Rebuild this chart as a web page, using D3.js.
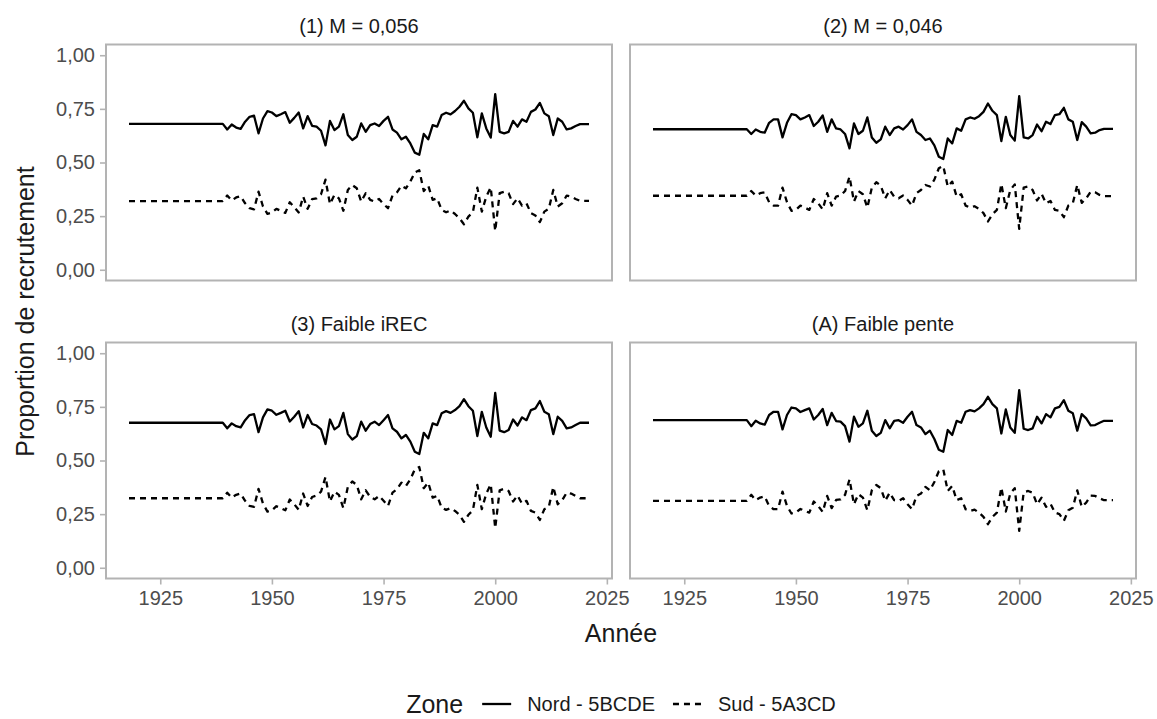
<!DOCTYPE html>
<html><head><meta charset="utf-8">
<script src="https://cdn.jsdelivr.net/npm/d3@7"></script>
<style>body{margin:0;background:#fff} svg{display:block} text{font-family:"Liberation Sans",Arial,sans-serif}</style>
</head><body><svg id="c" width="1157" height="719"></svg>
<script>
const years = d3.range(1918, 2022);
const panelTitles = ["(1) M = 0,056", "(2) M = 0,046", "(3) Faible iREC", "(A) Faible pente"];
const seriesNames = ["Nord - 5BCDE", "Sud - 5A3CD"];
const xTicks = [1925, 1950, 1975, 2000, 2025];
const yTicks = [0, 0.25, 0.5, 0.75, 1];

const nord1 = [0.68,0.68,0.68,0.68,0.68,0.68,0.68,0.68,0.68,0.68,0.68,0.68,0.68,0.68,0.68,0.68,0.68,0.68,0.68,0.68,0.68,0.68,
0.654,0.677,0.663,0.657,0.690,0.713,0.718,0.636,0.705,0.739,0.733,0.716,0.725,0.735,0.685,0.708,0.733,0.659,0.716,0.671,0.667,0.648,0.580,0.694,0.651,0.667,0.725,0.628,0.605,0.620,0.682,0.643,0.674,0.682,0.670,0.694,0.713,0.654,0.639,0.608,0.620,0.589,0.546,0.536,0.633,0.608,0.674,0.667,0.721,0.732,0.724,0.740,0.760,0.788,0.752,0.732,0.617,0.729,0.659,0.616,0.819,0.643,0.636,0.643,0.694,0.667,0.701,0.690,0.736,0.747,0.778,0.729,0.716,0.628,0.705,0.690,0.654,0.659,0.670,0.679,0.679,0.679];
const sud1 = [0.32,0.32,0.32,0.32,0.32,0.32,0.32,0.32,0.32,0.32,0.32,0.32,0.32,0.32,0.32,0.32,0.32,0.32,0.32,0.32,0.32,0.32,
0.346,0.323,0.337,0.343,0.310,0.287,0.282,0.364,0.295,0.261,0.267,0.284,0.275,0.265,0.315,0.292,0.267,0.341,0.284,0.329,0.333,0.352,0.420,0.306,0.349,0.333,0.275,0.372,0.395,0.380,0.318,0.357,0.326,0.318,0.330,0.306,0.287,0.346,0.361,0.392,0.380,0.411,0.454,0.464,0.367,0.392,0.326,0.333,0.279,0.268,0.276,0.260,0.240,0.212,0.248,0.268,0.383,0.271,0.341,0.384,0.181,0.357,0.364,0.357,0.306,0.333,0.299,0.310,0.264,0.253,0.222,0.271,0.284,0.372,0.295,0.310,0.346,0.341,0.330,0.321,0.321,0.321];

const nord2 = [0.655,0.655,0.655,0.655,0.655,0.655,0.655,0.655,0.655,0.655,0.655,0.655,0.655,0.655,0.655,0.655,0.655,0.655,0.655,0.655,0.655,0.655,
0.633,0.654,0.643,0.639,0.685,0.701,0.701,0.617,0.685,0.725,0.721,0.701,0.710,0.721,0.670,0.690,0.719,0.643,0.701,0.659,0.654,0.633,0.566,0.682,0.633,0.648,0.710,0.617,0.592,0.608,0.667,0.628,0.659,0.667,0.654,0.674,0.701,0.643,0.628,0.605,0.612,0.580,0.527,0.516,0.612,0.589,0.659,0.648,0.701,0.710,0.704,0.716,0.736,0.775,0.741,0.721,0.600,0.713,0.628,0.602,0.809,0.617,0.612,0.628,0.677,0.646,0.690,0.679,0.721,0.725,0.755,0.701,0.690,0.605,0.688,0.667,0.636,0.639,0.651,0.657,0.657,0.657];
const sud2 = [0.345,0.345,0.345,0.345,0.345,0.345,0.345,0.345,0.345,0.345,0.345,0.345,0.345,0.345,0.345,0.345,0.345,0.345,0.345,0.345,0.345,0.345,
0.367,0.346,0.357,0.361,0.315,0.299,0.299,0.383,0.315,0.275,0.279,0.299,0.290,0.279,0.330,0.310,0.281,0.357,0.299,0.341,0.346,0.367,0.434,0.318,0.367,0.352,0.290,0.383,0.408,0.392,0.333,0.372,0.341,0.333,0.346,0.326,0.299,0.357,0.372,0.395,0.388,0.420,0.473,0.484,0.388,0.411,0.341,0.352,0.299,0.290,0.296,0.284,0.264,0.225,0.259,0.279,0.400,0.287,0.372,0.398,0.191,0.383,0.388,0.372,0.323,0.354,0.310,0.321,0.279,0.275,0.245,0.299,0.310,0.395,0.312,0.333,0.364,0.361,0.349,0.343,0.343,0.343];

const nord3 = [0.676,0.676,0.676,0.676,0.676,0.676,0.676,0.676,0.676,0.676,0.676,0.676,0.676,0.676,0.676,0.676,0.676,0.676,0.676,0.676,0.676,0.676,
0.650,0.673,0.660,0.654,0.688,0.712,0.716,0.632,0.701,0.738,0.732,0.713,0.722,0.732,0.682,0.704,0.730,0.654,0.712,0.670,0.663,0.645,0.577,0.691,0.645,0.660,0.722,0.623,0.598,0.614,0.681,0.639,0.670,0.681,0.665,0.688,0.712,0.650,0.634,0.603,0.619,0.588,0.541,0.530,0.629,0.603,0.673,0.665,0.720,0.730,0.722,0.735,0.753,0.786,0.753,0.732,0.614,0.727,0.654,0.611,0.815,0.639,0.632,0.642,0.691,0.663,0.701,0.688,0.735,0.743,0.777,0.727,0.716,0.623,0.704,0.685,0.650,0.654,0.665,0.676,0.676,0.676];
const sud3 = [0.324,0.324,0.324,0.324,0.324,0.324,0.324,0.324,0.324,0.324,0.324,0.324,0.324,0.324,0.324,0.324,0.324,0.324,0.324,0.324,0.324,0.324,
0.350,0.327,0.340,0.346,0.312,0.288,0.284,0.368,0.299,0.262,0.268,0.287,0.278,0.268,0.318,0.296,0.270,0.346,0.288,0.330,0.337,0.355,0.423,0.309,0.355,0.340,0.278,0.377,0.402,0.386,0.319,0.361,0.330,0.319,0.335,0.312,0.288,0.350,0.366,0.397,0.381,0.412,0.459,0.470,0.371,0.397,0.327,0.335,0.280,0.270,0.278,0.265,0.247,0.214,0.247,0.268,0.386,0.273,0.346,0.389,0.185,0.361,0.368,0.358,0.309,0.337,0.299,0.312,0.265,0.257,0.223,0.273,0.284,0.377,0.296,0.315,0.350,0.346,0.335,0.324,0.324,0.324];

const nord4 = [0.688,0.688,0.688,0.688,0.688,0.688,0.688,0.688,0.688,0.688,0.688,0.688,0.688,0.688,0.688,0.688,0.688,0.688,0.688,0.688,0.688,0.688,
0.660,0.685,0.673,0.667,0.712,0.727,0.727,0.645,0.712,0.747,0.743,0.726,0.735,0.743,0.691,0.712,0.740,0.665,0.722,0.684,0.681,0.660,0.588,0.704,0.657,0.673,0.732,0.639,0.614,0.629,0.688,0.650,0.685,0.688,0.676,0.704,0.727,0.665,0.654,0.623,0.639,0.600,0.550,0.541,0.642,0.619,0.685,0.676,0.727,0.735,0.729,0.743,0.763,0.797,0.763,0.743,0.626,0.738,0.654,0.629,0.828,0.648,0.642,0.650,0.704,0.673,0.716,0.701,0.743,0.750,0.781,0.732,0.720,0.639,0.716,0.696,0.664,0.665,0.676,0.685,0.685,0.685];
const sud4 = [0.312,0.312,0.312,0.312,0.312,0.312,0.312,0.312,0.312,0.312,0.312,0.312,0.312,0.312,0.312,0.312,0.312,0.312,0.312,0.312,0.312,0.312,
0.340,0.315,0.327,0.333,0.288,0.273,0.273,0.355,0.288,0.253,0.257,0.274,0.265,0.257,0.309,0.288,0.260,0.335,0.278,0.316,0.319,0.340,0.412,0.296,0.343,0.327,0.268,0.361,0.386,0.371,0.312,0.350,0.315,0.312,0.324,0.296,0.273,0.335,0.346,0.377,0.361,0.400,0.450,0.459,0.358,0.381,0.315,0.324,0.273,0.265,0.271,0.257,0.237,0.203,0.237,0.257,0.374,0.262,0.346,0.371,0.172,0.352,0.358,0.350,0.296,0.327,0.284,0.299,0.257,0.250,0.219,0.268,0.280,0.361,0.284,0.304,0.336,0.335,0.324,0.315,0.315,0.315];

const panels = [[nord1, sud1], [nord2, sud2], [nord3, sud3], [nord4, sud4]];

// ---- layout ----
const W = 1157, H = 719;
const pw = 506, ph = 236;
const colX = [106, 630], rowY = [44.5, 342.5];
const borderCol = "#b3b3b3";
const FONT = '"Liberation Sans",Arial,sans-serif';
const svg = d3.select("#c");
svg.append("rect").attr("width", W).attr("height", H).attr("fill", "#fff");

const yr0 = d3.min(years), yr1 = d3.max(years);
const xpad = (yr1 - yr0) * 0.05;
const x = d3.scaleLinear().domain([yr0 - xpad, yr1 + xpad]).range([0, pw]);
const y = d3.scaleLinear().domain([-0.05, 1.05]).range([ph, 0]);
const fmt = v => d3.format(".2f")(v).replace(".", ",");
const dashes = [null, "6,5"];

panels.forEach((series, i) => {
  const col = i % 2, row = Math.floor(i / 2);
  const g = svg.append("g").attr("transform", `translate(${colX[col]},${rowY[row]})`);
  g.append("text").attr("x", pw / 2).attr("y", -12).attr("text-anchor", "middle")
    .attr("font-size", 20).attr("fill", "#1a1a1a").text(panelTitles[i]);
  const line = d3.line().x((d, k) => x(years[k])).y(d => y(d));
  series.forEach((vals, s) => {
    g.append("path").datum(vals).attr("d", line).attr("fill", "none")
      .attr("stroke", "#000").attr("stroke-width", 2.3)
      .attr("stroke-linejoin", "round")
      .attr("stroke-dasharray", dashes[s]);
  });
  g.append("rect").attr("x", 0).attr("y", 0).attr("width", pw).attr("height", ph)
    .attr("fill", "none").attr("stroke", borderCol).attr("stroke-width", 2);
  if (col === 0) {
    const ya = g.append("g").call(d3.axisLeft(y).tickValues(yTicks).tickFormat(fmt).tickSize(6).tickPadding(5));
    ya.select(".domain").remove();
    ya.selectAll("line").attr("stroke", borderCol).attr("stroke-width", 1.6);
    ya.selectAll("text").attr("font-size", 20).attr("fill", "#4d4d4d").attr("font-family", FONT);
  }
  if (row === 1) {
    const xa = g.append("g").attr("transform", `translate(0,${ph})`)
      .call(d3.axisBottom(x).tickValues(xTicks).tickFormat(d3.format("d")).tickSize(6).tickPadding(6));
    xa.select(".domain").remove();
    xa.selectAll("line").attr("stroke", borderCol).attr("stroke-width", 1.6);
    xa.selectAll("text").attr("font-size", 20).attr("fill", "#4d4d4d").attr("font-family", FONT);
  }
});

const cx = (colX[0] + colX[1] + pw) / 2;
svg.append("text").attr("x", cx).attr("y", 642).attr("text-anchor", "middle")
  .attr("font-size", 25).attr("fill", "#1a1a1a").text("Année");
svg.append("text").attr("transform", `translate(34,${(rowY[0] + rowY[1] + ph) / 2}) rotate(-90)`)
  .attr("text-anchor", "middle").attr("font-size", 25).attr("fill", "#1a1a1a").text("Proportion de recrutement");

// legend
const lg = svg.append("g");
const ly = 704;
let cur = 0;
const title = lg.append("text").attr("x", cur).attr("y", ly).attr("dy", "0.35em")
  .attr("font-size", 25).attr("fill", "#1a1a1a").text("Zone");
cur += title.node().getComputedTextLength() + 19;
seriesNames.forEach((name, s) => {
  lg.append("line").attr("x1", cur).attr("x2", cur + 29).attr("y1", ly).attr("y2", ly)
    .attr("stroke", "#000").attr("stroke-width", 2.3).attr("stroke-dasharray", dashes[s]);
  cur += 29 + 16;
  const t = lg.append("text").attr("x", cur).attr("y", ly).attr("dy", "0.35em")
    .attr("font-size", 20).attr("fill", "#1a1a1a").text(name);
  cur += t.node().getComputedTextLength() + 18;
});
cur -= 18;
lg.attr("transform", `translate(${cx - cur / 2},0)`);
</script></body></html>
